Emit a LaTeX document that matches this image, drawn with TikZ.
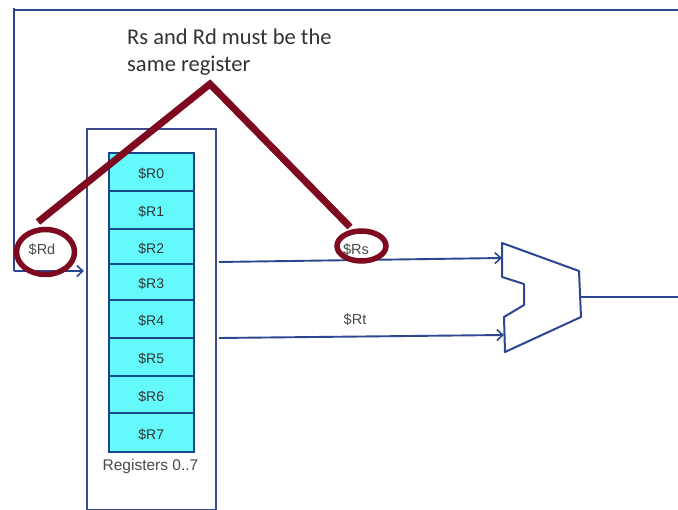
\documentclass[tikz,border=0pt]{standalone}
\usepackage{fontspec}
\setmainfont{Liberation Sans}
\newfontfamily\notefont{Carlito}
\usetikzlibrary{arrows.meta,shapes.geometric}
\definecolor{wireblue}{RGB}{45,70,145}
\definecolor{boxblue}{RGB}{60,75,140}
\definecolor{cellcyan}{RGB}{100,250,252}
\definecolor{cellline}{RGB}{25,70,140}
\definecolor{markred}{RGB}{125,10,30}
\definecolor{labelgrey}{RGB}{70,75,75}
\tikzset{
  wire/.style={draw=wireblue,line width=1.9pt},
  arrowwire/.style={wire,-{Straight Barb[length=6pt,width=11pt,line width=1.6pt]}},
  regcell/.style={draw=cellline,line width=2pt,fill=cellcyan,minimum width=85.5pt,inner sep=0pt,outer sep=0pt,text=labelgrey!70!black,text height=13pt,text depth=0pt,font=\fontsize{14pt}{16pt}\selectfont},
  sig/.style={text=labelgrey,font=\fontsize{14.5pt}{16pt}\selectfont,inner sep=0pt},
  redline/.style={draw=markred,line width=7pt,line join=miter},
  redring/.style={draw=markred,line width=5.5pt,ellipse,inner sep=0pt,outer sep=0pt,fill=none}
}
\begin{document}
\begin{tikzpicture}[x=1pt,y=-1pt]
\useasboundingbox (0,0) rectangle (678,510);
\fill[white] (0,0) rectangle (678,510);
% coordinates
\coordinate (topL) at (14,10);
\coordinate (topR) at (678,10);
\coordinate (loopB) at (14,271);
\coordinate (regIn) at (84,271);
\coordinate (rsS) at (219,262);
\coordinate (rsE) at (502,258);
\coordinate (rtS) at (219,338);
\coordinate (rtE) at (504,335);
\coordinate (aluOut) at (580,297);
\coordinate (outR) at (678,297);
\coordinate (apex) at (210,84);
\coordinate (rdEnd) at (38,222);
\coordinate (rsEnd) at (350,227);
% register file box
\node[draw=boxblue,line width=2pt,fill=white,minimum width=129.5pt,minimum height=381pt,inner sep=0pt,anchor=north west] (regfile) at (85.5,128.5) {};
% wires
\draw[wire] (topR) -- (topL) -- (14,8);
\draw[wire] (topL) -- (loopB);
\draw[arrowwire] (loopB) -- (regIn);
\draw[arrowwire] (rsS) -- (rsE);
\draw[arrowwire] (rtS) -- (rtE);
\draw[wire] (aluOut) -- (outR);
% registers
\foreach \nm/\ya/\yb in {0/153/191,1/191/229.5,2/229.5/264,3/264/300,4/300/338,5/338/376,6/376/413.5,7/413.5/452.5}{
  \pgfmathsetmacro{\hh}{\yb-\ya}
  \node[regcell,minimum height=\hh pt,anchor=north west] (r\nm) at (108.5,\ya) {\$R\nm};
}
\node[sig,anchor=center] (reglabel) at (150.5,466) {\fontsize{15.5pt}{17pt}\selectfont Registers 0..7};
% ALU
\draw[draw=wireblue,line width=2pt,line join=round,fill=white]
  (502,243) -- (579,271) -- (581,317) -- (505,352) -- (504,317) -- (524,305) -- (524,284) -- (502,277) -- cycle;
% signal labels
\node[sig] (rd) at (42,250) {\$Rd};
\node[sig] (rs) at (356,249.5) {\$Rs};
\node[sig] (rt) at (355,320) {\$Rt};
% annotation
\node[anchor=north west,inner sep=0pt,align=left,text=black!80,font=\notefont\fontsize{22.5pt}{27pt}\selectfont] (note) at (127,29) {Rs and Rd must be the\\same register};
% red markup
\node[redring,minimum width=58pt,minimum height=45pt] (rdring) at (45.5,252) {};
\node[redring,minimum width=49pt,minimum height=30pt] (rsring) at (361.5,246) {};
\draw[redline] (rdEnd) -- (apex) -- (rsEnd);
\end{tikzpicture}
\end{document}
